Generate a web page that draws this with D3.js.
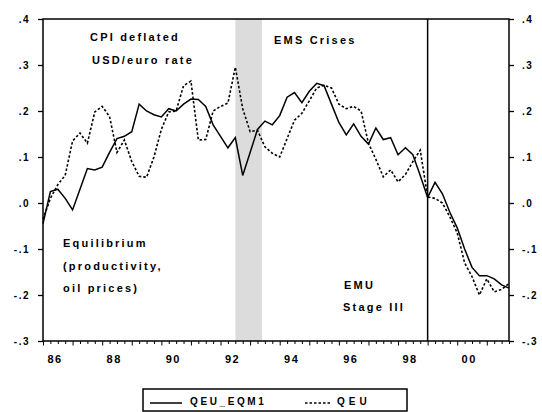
<!DOCTYPE html>
<html>
<head>
<meta charset="utf-8">
<script src="https://cdn.jsdelivr.net/npm/d3@7"></script>
<style>
  html, body { margin: 0; padding: 0; background: #fff; }
  svg text { font-family: "Liberation Sans", Arial, sans-serif; fill: #000; }
</style>
</head>
<body>
<svg id="chart" width="542" height="412"></svg>
<script>
// Quarterly data 1986Q1 .. 2001Q4
const startYear = 1986;
const qeuEqm1 = [
  -0.045, 0.025, 0.030, 0.010, -0.015, 0.030, 0.075, 0.072,
  0.078, 0.110, 0.140, 0.145, 0.155, 0.215, 0.200, 0.192,
  0.187, 0.205, 0.200, 0.215, 0.226, 0.225, 0.210, 0.170,
  0.145, 0.120, 0.142, 0.060, 0.110, 0.160, 0.178, 0.170,
  0.190, 0.230, 0.240, 0.218, 0.243, 0.260, 0.255, 0.215,
  0.175, 0.148, 0.172, 0.145, 0.128, 0.163, 0.138, 0.142,
  0.105, 0.120, 0.105, 0.060, 0.012, 0.045, 0.020, -0.020,
  -0.054, -0.100, -0.140, -0.158, -0.158, -0.165, -0.178, -0.185
];
const qeu = [
  -0.035, 0.010, 0.040, 0.060, 0.135, 0.152, 0.130, 0.198,
  0.210, 0.188, 0.110, 0.137, 0.090, 0.058, 0.056, 0.100,
  0.160, 0.198, 0.200, 0.255, 0.265, 0.137, 0.138, 0.200,
  0.210, 0.217, 0.295, 0.205, 0.155, 0.158, 0.122, 0.108,
  0.100, 0.140, 0.180, 0.195, 0.222, 0.250, 0.256, 0.250,
  0.215, 0.205, 0.210, 0.200, 0.130, 0.095, 0.057, 0.072,
  0.046, 0.062, 0.090, 0.115, 0.013, 0.010, 0.000, -0.030,
  -0.065, -0.130, -0.160, -0.200, -0.165, -0.193, -0.188, -0.175
];
const yTicks = [0.4, 0.3, 0.2, 0.1, 0.0, -0.1, -0.2, -0.3];
const yTickLabels = [".4", ".3", ".2", ".1", ".0", "-.1", "-.2", "-.3"];
const xLabelYears = [1986, 1988, 1990, 1992, 1994, 1996, 1998, 2000];
const xTickLabels = ["86", "88", "90", "92", "94", "96", "98", "00"];
const crisisPeriod = [1992.5, 1993.4];   // EMS crises shading
const emuStart = 1999.0;                  // EMU Stage III
const seriesNames = ["QEU_EQM1", "QEU"];

const svg = d3.select("#chart");
const L = 43, R = 509, T = 19, B = 341;

const x = d3.scaleLinear().domain([1986, 2001.75]).range([L, R]);
const y = d3.scaleLinear().domain([-0.3, 0.4]).range([B, T]);

const t = i => startYear + i / 4;

// shading
svg.append("rect")
  .attr("x", x(crisisPeriod[0])).attr("y", T)
  .attr("width", x(crisisPeriod[1]) - x(crisisPeriod[0]))
  .attr("height", B - T)
  .attr("fill", "#dcdcdc");

// EMU vertical line
svg.append("line")
  .attr("x1", x(emuStart)).attr("x2", x(emuStart))
  .attr("y1", T).attr("y2", B)
  .attr("stroke", "#000").attr("stroke-width", 1.5);

// lines
const line = d3.line().x((d, i) => x(t(i))).y(d => y(d));
svg.append("path").datum(qeu)
  .attr("d", line).attr("fill", "none")
  .attr("stroke", "#000").attr("stroke-width", 1.6)
  .attr("stroke-dasharray", "2.5,2");
svg.append("path").datum(qeuEqm1)
  .attr("d", line).attr("fill", "none")
  .attr("stroke", "#000").attr("stroke-width", 1.5);

// frame
svg.append("rect")
  .attr("x", L).attr("y", T).attr("width", R - L).attr("height", B - T)
  .attr("fill", "none").attr("stroke", "#000").attr("stroke-width", 1.5);

// y axes
const yAxisL = d3.axisLeft(y).tickValues(yTicks).tickSize(5).tickPadding(8)
  .tickFormat((d, i) => yTickLabels[i]);
const yAxisR = d3.axisRight(y).tickValues(yTicks).tickSize(5).tickPadding(8)
  .tickFormat((d, i) => yTickLabels[i]);
const gl = svg.append("g").attr("transform", `translate(${L},0)`).call(yAxisL);
const gr = svg.append("g").attr("transform", `translate(${R},0)`).call(yAxisR);
[gl, gr].forEach(g => {
  g.select(".domain").remove();
  g.selectAll("line").attr("stroke", "#000").attr("stroke-width", 1.3);
  g.selectAll("text").style("font-size", "10px").style("font-weight", "bold")
    .style("letter-spacing", "1.5px").attr("fill", "#000");
});

// x axis: quarterly minor ticks, yearly slightly longer
const quarterTicks = d3.range(0, qeu.length).map(t);
const xAxisMinor = d3.axisBottom(x).tickValues(quarterTicks).tickSize(3).tickFormat("");
const gx = svg.append("g").attr("transform", `translate(0,${B})`).call(xAxisMinor);
gx.select(".domain").remove();
gx.selectAll("line").attr("stroke", "#000").attr("stroke-width", 1)
  .attr("y2", d => (Math.abs(d - Math.round(d)) < 1e-6 ? 4.5 : 3));

svg.append("g").selectAll("text").data(xLabelYears).join("text")
  .attr("x", d => x(d) + 12).attr("y", 363)
  .attr("text-anchor", "middle")
  .style("font-size", "11px").style("font-weight", "bold").style("letter-spacing", "1.5px")
  .text((d, i) => xTickLabels[i]);

// annotations
const notes = [
  { text: "CPI deflated", x: 90, y: 41 },
  { text: "USD/euro rate", x: 92, y: 64 },
  { text: "EMS Crises", x: 274, y: 44 },
  { text: "Equilibrium", x: 63, y: 247 },
  { text: "(productivity,", x: 63, y: 270 },
  { text: "oil prices)", x: 63, y: 292 },
  { text: "EMU", x: 344, y: 289 },
  { text: "Stage III", x: 343, y: 311 }
];
svg.append("g").selectAll("text").data(notes).join("text")
  .attr("x", d => d.x).attr("y", d => d.y)
  .style("font-size", "11px").style("font-weight", "bold").style("letter-spacing", "2.2px")
  .text(d => d.text);

// legend
const lg = svg.append("g");
lg.append("rect").attr("x", 143).attr("y", 389).attr("width", 264).attr("height", 22)
  .attr("fill", "#fff").attr("stroke", "#000").attr("stroke-width", 1.5);
lg.append("line").attr("x1", 150).attr("x2", 182).attr("y1", 403).attr("y2", 403)
  .attr("stroke", "#000").attr("stroke-width", 1.5);
lg.append("text").attr("x", 190).attr("y", 405)
  .style("font-size", "10px").style("font-weight", "bold").style("letter-spacing", "2.6px")
  .text(seriesNames[0]);
lg.append("line").attr("x1", 305).attr("x2", 332).attr("y1", 403).attr("y2", 403)
  .attr("stroke", "#000").attr("stroke-width", 1.6).attr("stroke-dasharray", "2.5,2");
lg.append("text").attr("x", 337).attr("y", 405)
  .style("font-size", "10px").style("font-weight", "bold").style("letter-spacing", "4px")
  .text(seriesNames[1]);
</script>
</body>
</html>
